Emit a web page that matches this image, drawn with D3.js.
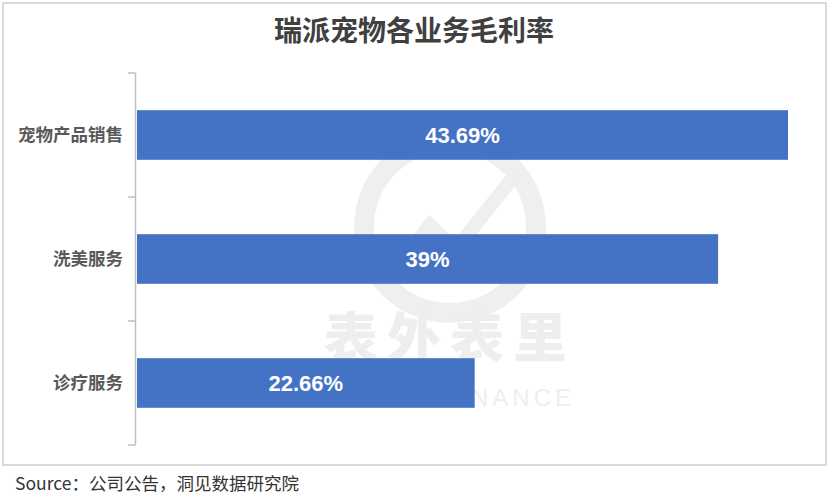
<!DOCTYPE html>
<html><head><meta charset="utf-8">
<script src="https://cdn.jsdelivr.net/npm/d3@7"></script>
<style>body{margin:0;background:#fff}svg{display:block}</style>
</head><body>
<script>
const categories = ["宠物产品销售", "洗美服务", "诊疗服务"];
const values = [43.69, 39, 22.66];
const valueLabels = ["43.69%", "39%", "22.66%"];
const title = "瑞派宠物各业务毛利率";
const source = "Source：公司公告，洞见数据研究院";

const W = 829, H = 500;
const svg = d3.select("body").append("svg").attr("width", W).attr("height", H);
const cjk = "'Noto Sans CJK SC','Noto Sans',sans-serif";

svg.append("rect").attr("x", 3).attr("y", 3).attr("width", 823).attr("height", 462)
  .attr("fill", "#fff").attr("stroke", "#d9d9d9").attr("stroke-width", 2);

// watermark
const wm = svg.append("g");
wm.append("circle").attr("cx", 450).attr("cy", 227).attr("r", 86)
  .attr("fill", "none").attr("stroke", "#efefef").attr("stroke-width", 20);
wm.append("path").attr("d", "M395,270 L430,225 L455,250 L515,175")
  .attr("fill", "none").attr("stroke", "#efefef").attr("stroke-width", 14);
wm.append("text").attr("x", 450).attr("y", 358).attr("text-anchor", "middle")
  .attr("font-family", cjk).attr("font-weight", 900).attr("font-size", 54)
  .attr("fill", "#eeeeee").attr("letter-spacing", 9).text("表外表里");
wm.append("text").attr("x", 575).attr("y", 406).attr("text-anchor", "end")
  .attr("font-family", "'Liberation Sans',sans-serif").attr("font-size", 24)
  .attr("fill", "#eeeeee").attr("letter-spacing", 4).text("FINANCE");

svg.append("text").attr("x", 414).attr("y", 41).attr("text-anchor", "middle")
  .attr("font-family", cjk).attr("font-weight", 700).attr("font-size", 28)
  .attr("fill", "#404040").text(title);

const y = d3.scaleBand().domain(categories).range([73, 445])
  .paddingInner(0.6).paddingOuter(0.3);
const x = d3.scaleLinear().domain([0, 45]).range([137, 137 + 45 * (651 / 43.69)]);

// axis with boundary ticks
const ax = svg.append("g").attr("stroke", "#bfbfbf").attr("stroke-width", 1.5);
ax.append("line").attr("x1", 135.5).attr("x2", 135.5).attr("y1", 73).attr("y2", 445);
const bounds = categories.map(c => y(c) - y.step() * y.paddingInner() / 2)
  .concat([y(categories[categories.length - 1]) + y.bandwidth() + y.step() * y.paddingInner() / 2]);
ax.selectAll(".tk").data(bounds).enter().append("line")
  .attr("x1", 128).attr("x2", 135.5).attr("y1", d => d).attr("y2", d => d);

svg.selectAll(".cat").data(categories).enter().append("text")
  .attr("x", 123).attr("y", d => y(d) + y.bandwidth() / 2)
  .attr("dy", "0.35em").attr("text-anchor", "end")
  .attr("font-family", cjk).attr("font-weight", 700).attr("font-size", 17.5)
  .attr("fill", "#595959").text(d => d);

svg.selectAll(".bar").data(values).enter().append("rect")
  .attr("x", x(0)).attr("y", (d, i) => y(categories[i]))
  .attr("width", d => x(d) - x(0)).attr("height", y.bandwidth())
  .attr("fill", "#4472c4");

svg.selectAll(".val").data(values).enter().append("text")
  .attr("x", d => (x(0) + x(d)) / 2).attr("y", (d, i) => y(categories[i]) + y.bandwidth() / 2)
  .attr("dy", "0.35em").attr("text-anchor", "middle")
  .attr("font-family", "'Liberation Sans',Arial,sans-serif").attr("font-weight", 700)
  .attr("font-size", 22).attr("fill", "#fff").text((d, i) => valueLabels[i]);

svg.append("text").attr("x", 15).attr("y", 490)
  .attr("font-family", cjk).attr("font-size", 17.5).attr("fill", "#333")
  .text(source);
</script>
</body></html>
